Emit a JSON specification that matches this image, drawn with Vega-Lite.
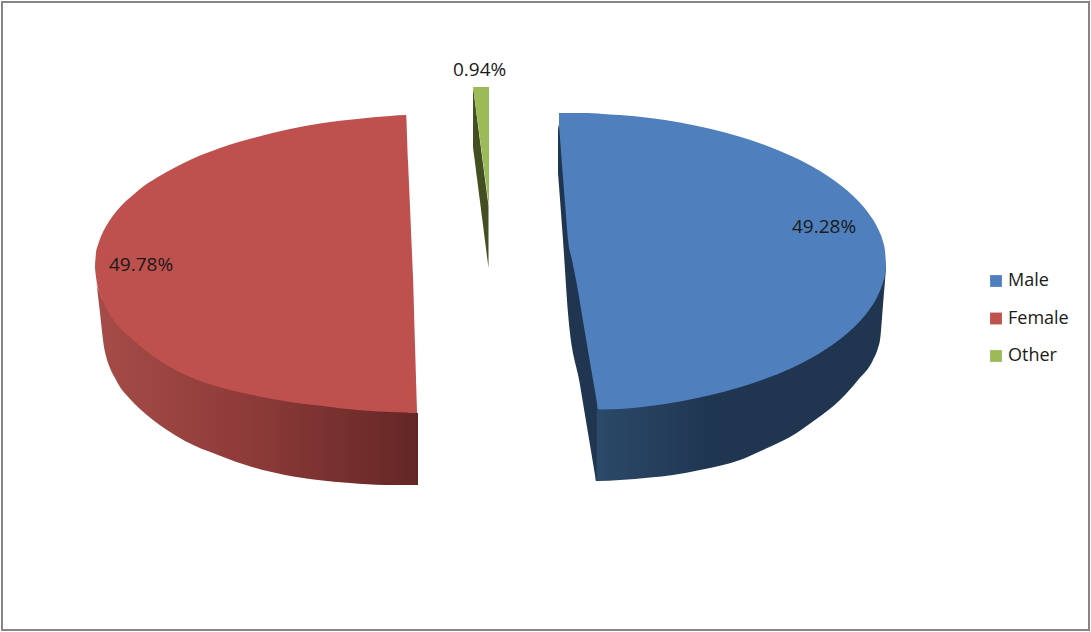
{"$schema":"https://vega.github.io/schema/vega-lite/v6.json","width":1087,"height":628,"padding":2,"autosize":{"type":"none"},"background":"#ffffff","config":{"view":{"stroke":"#868686","strokeWidth":2},"font":"Open Sans"},
"datasets":{
"top":[
{"category":"Male","x":559,"y":113,"y2":125},{"category":"Male","x":562,"y":113,"y2":165},{"category":"Male","x":565,"y":113,"y2":203},{"category":"Male","x":568,"y":113,"y2":240},{"category":"Male","x":572,"y":113,"y2":260},{"category":"Male","x":576,"y":113,"y2":280},{"category":"Male","x":585,"y":113,"y2":333},{"category":"Male","x":592,"y":113.2,"y2":374},{"category":"Male","x":596,"y":113.4,"y2":397},{"category":"Male","x":597,"y":113.4,"y2":403},{"category":"Male","x":598,"y":113.5,"y2":409},{"category":"Male","x":600,"y":113.7,"y2":409.5},{"category":"Male","x":620,"y":115,"y2":409},{"category":"Male","x":650,"y":118,"y2":406},{"category":"Male","x":680,"y":122.5,"y2":401.5},{"category":"Male","x":710,"y":128.7,"y2":395.3},{"category":"Male","x":740,"y":136.7,"y2":387.3},{"category":"Male","x":770,"y":146.9,"y2":377.1},{"category":"Male","x":800,"y":160.1,"y2":363.9},{"category":"Male","x":820,"y":171.1,"y2":352.9},{"category":"Male","x":840,"y":184.8,"y2":339.2},{"category":"Male","x":855,"y":197.8,"y2":326.2},{"category":"Male","x":868,"y":212.6,"y2":311.4},{"category":"Male","x":878,"y":228.8,"y2":295.2},{"category":"Male","x":883,"y":241.6,"y2":282.4},{"category":"Male","x":885,"y":251,"y2":275},{"category":"Male","x":886,"y":264,"y2":266},
{"category":"Female","x":95,"y":266,"y2":268},{"category":"Female","x":96,"y":253,"y2":277},{"category":"Female","x":98,"y":245,"y2":288},{"category":"Female","x":100,"y":239,"y2":294},{"category":"Female","x":104,"y":230,"y2":304},{"category":"Female","x":110,"y":220,"y2":315},{"category":"Female","x":123,"y":204,"y2":331},{"category":"Female","x":133,"y":195,"y2":340},{"category":"Female","x":140,"y":189,"y2":346},{"category":"Female","x":157,"y":177.6,"y2":359},{"category":"Female","x":190,"y":160,"y2":377},{"category":"Female","x":223,"y":147,"y2":388},{"category":"Female","x":257,"y":137,"y2":396},{"category":"Female","x":290,"y":129,"y2":402},{"category":"Female","x":323,"y":123,"y2":406},{"category":"Female","x":357,"y":119,"y2":410},{"category":"Female","x":390,"y":116,"y2":412},{"category":"Female","x":406,"y":115,"y2":412.5},{"category":"Female","x":408,"y":161,"y2":412.7},{"category":"Female","x":410,"y":207,"y2":413},{"category":"Female","x":412,"y":254,"y2":413},{"category":"Female","x":413,"y":277,"y2":413},{"category":"Female","x":415,"y":345,"y2":413},{"category":"Female","x":417,"y":412,"y2":413},
{"category":"Other","x":473,"y":87,"y2":87},{"category":"Other","x":489,"y":87,"y2":206}
],
"side":[
{"slice":"Male","x":558,"y":130,"y2":173},{"slice":"Male","x":559,"y":125,"y2":186},{"slice":"Male","x":563,"y":135,"y2":240},{"slice":"Male","x":568,"y":170,"y2":313},{"slice":"Male","x":580,"y":220,"y2":385},{"slice":"Male","x":590,"y":250,"y2":445},{"slice":"Male","x":594,"y":260,"y2":469},{"slice":"Male","x":595,"y":264,"y2":475},{"slice":"Male","x":596,"y":268,"y2":481},{"slice":"Male","x":598,"y":272,"y2":481},{"slice":"Male","x":620,"y":300,"y2":480},{"slice":"Male","x":650,"y":300,"y2":477.5},{"slice":"Male","x":673,"y":300,"y2":475},{"slice":"Male","x":700,"y":300,"y2":470},{"slice":"Male","x":740,"y":300,"y2":460},{"slice":"Male","x":765,"y":300,"y2":449},{"slice":"Male","x":790,"y":300,"y2":437},{"slice":"Male","x":815,"y":300,"y2":420},{"slice":"Male","x":840,"y":300,"y2":400},{"slice":"Male","x":858,"y":300,"y2":380},{"slice":"Male","x":873,"y":290,"y2":360},{"slice":"Male","x":878,"y":280,"y2":348},{"slice":"Male","x":880,"y":275,"y2":340},{"slice":"Male","x":883,"y":265,"y2":305},{"slice":"Male","x":886,"y":265,"y2":268},
{"slice":"Female","x":95,"y":267,"y2":268},{"slice":"Female","x":97,"y":285,"y2":287},{"slice":"Female","x":100,"y":293,"y2":313},{"slice":"Female","x":103,"y":300,"y2":340},{"slice":"Female","x":104,"y":300,"y2":347},{"slice":"Female","x":106,"y":300,"y2":356},{"slice":"Female","x":110,"y":300,"y2":368},{"slice":"Female","x":115,"y":300,"y2":378},{"slice":"Female","x":120,"y":300,"y2":387},{"slice":"Female","x":130,"y":300,"y2":399},{"slice":"Female","x":140,"y":300,"y2":409},{"slice":"Female","x":153,"y":300,"y2":420},{"slice":"Female","x":167,"y":300,"y2":430},{"slice":"Female","x":185,"y":300,"y2":441},{"slice":"Female","x":218,"y":300,"y2":455},{"slice":"Female","x":252,"y":300,"y2":467},{"slice":"Female","x":285,"y":300,"y2":475},{"slice":"Female","x":318,"y":300,"y2":480},{"slice":"Female","x":350,"y":350,"y2":483},{"slice":"Female","x":385,"y":400,"y2":485},{"slice":"Female","x":418,"y":413,"y2":485},
{"slice":"Other","x":473,"y":87,"y2":147},{"slice":"Other","x":488.5,"y":206,"y2":268}
],
"labels":[
{"category":"Male","share":0.4928,"x":792,"y":233},{"category":"Female","share":0.4978,"x":109,"y":271},{"category":"Other","share":0.0094,"x":453,"y":76}
]},
"encoding":{"x":{"field":"x","type":"quantitative","axis":null,"scale":{"domain":[2,1089]}},"y":{"field":"y","type":"quantitative","axis":null,"scale":{"domain":[630,2]}},"y2":{"field":"y2"}},
"layer":[
{"data":{"name":"side"},"transform":[{"filter":"datum.slice==='Male'"}],"mark":{"type":"area","interpolate":"monotone","color":{"gradient":"linear","x1":0,"x2":1,"y1":0,"y2":0,"stops":[{"offset":0,"color":"#1f3550"},{"offset":0.116,"color":"#1f3550"},{"offset":0.12,"color":"#2b4969"},{"offset":0.48,"color":"#1f3550"},{"offset":1,"color":"#1f3550"}]}}},
{"data":{"name":"side"},"transform":[{"filter":"datum.slice==='Female'"}],"mark":{"type":"area","interpolate":"monotone","color":{"gradient":"linear","x1":0,"x2":1,"y1":0,"y2":0,"stops":[{"offset":0,"color":"#a64c48"},{"offset":0.5,"color":"#8c3a38"},{"offset":1,"color":"#632725"}]}}},
{"data":{"name":"side"},"transform":[{"filter":"datum.slice==='Other'"}],"mark":{"type":"area","color":"#434f21"}},
{"data":{"name":"top"},"mark":{"type":"area","interpolate":"monotone"},"encoding":{"color":{"field":"category","type":"nominal","scale":{"domain":["Male","Female","Other"],"range":["#4f7fbc","#be504d","#9bbb59"]},"legend":{"orient":"none","legendX":985,"legendY":270,"title":null,"symbolType":"square","symbolSize":140,"symbolOpacity":1,"symbolStrokeWidth":0,"labelFont":"Open Sans","labelFontSize":18,"labelColor":"#1a1a1a","labelOffset":3,"rowPadding":19.5}}}},
{"data":{"name":"labels"},"mark":{"type":"text","align":"left","baseline":"alphabetic","font":"Open Sans","fontSize":19,"color":"#1a1a1a"},"encoding":{"text":{"field":"share","type":"quantitative","format":".2%"}}}
]}
